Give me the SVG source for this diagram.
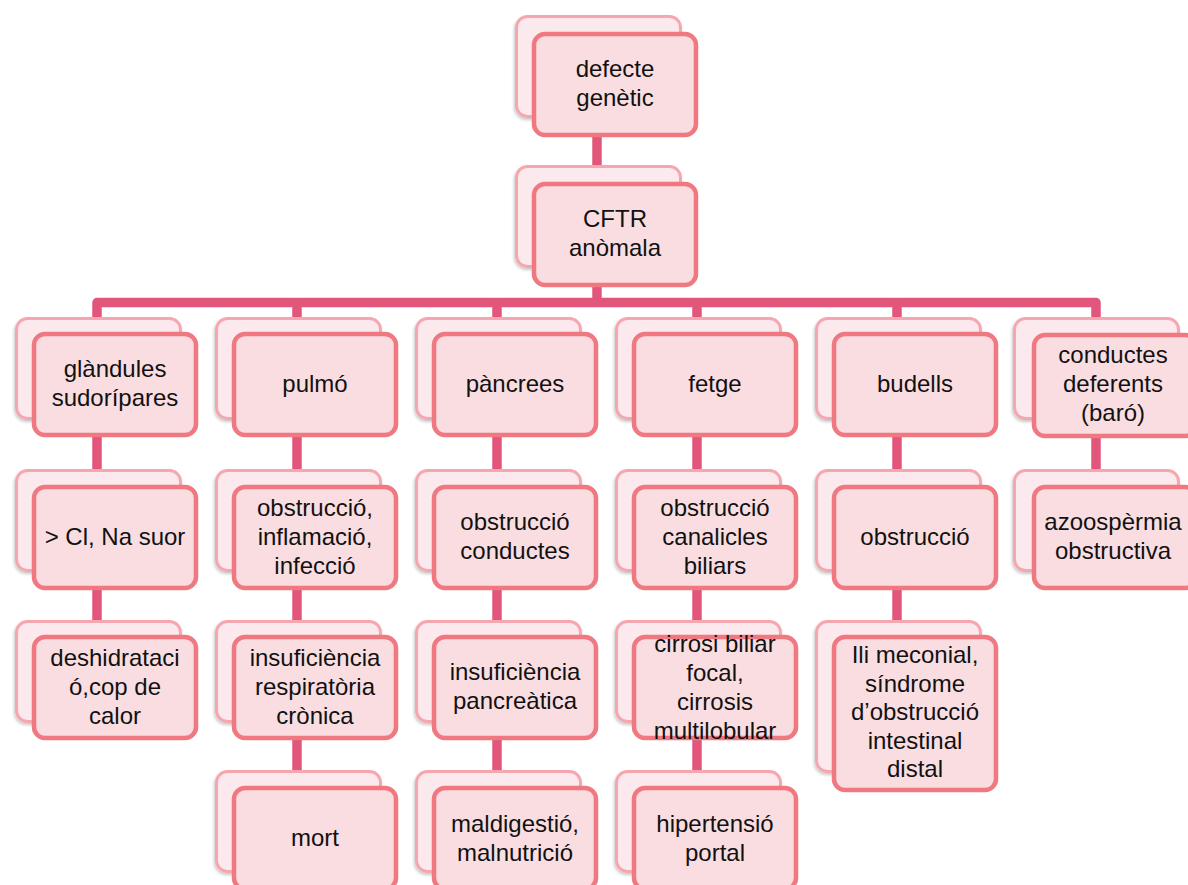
<svg xmlns="http://www.w3.org/2000/svg" width="1188" height="885" viewBox="0 0 1188 885">
<defs>
<filter id="sh" x="-10%" y="-10%" width="120%" height="125%">
<feDropShadow dx="-1" dy="2" stdDeviation="1.5" flood-color="#000" flood-opacity="0.22"/>
</filter>
<style>
.bk{fill:#FBE9ED;stroke:#F6A6AE;stroke-width:3;filter:url(#sh)}
.fr{fill:#FADDE1;stroke:#F07880;stroke-width:4.5}
.cn{fill:none;stroke:#E2567C;stroke-width:9.5;stroke-linejoin:round}
text{font-family:"Liberation Sans",Arial,sans-serif;font-size:24px;fill:#111;text-anchor:middle}
</style>
</defs>
<rect width="1188" height="885" fill="#fff"/>
<g id="connectors">
<path class="cn" d="M597,137V302.5"/>
<path class="cn" d="M97,625V302.5H1096V470"/>
<path class="cn" d="M297,302.5V775"/>
<path class="cn" d="M497,302.5V775"/>
<path class="cn" d="M697,302.5V775"/>
<path class="cn" d="M897,302.5V625"/>
</g>
<g id="n-defecte">
<rect class="bk" x="516.5" y="16.5" width="164" height="100" rx="11"/>
<rect class="fr" x="534" y="34" width="162" height="101" rx="11"/>
<text x="615"><tspan x="615" y="77">defecte</tspan><tspan x="615" y="106">genètic</tspan></text>
</g>
<g id="n-cftr">
<rect class="bk" x="516.5" y="166.5" width="164" height="100" rx="11"/>
<rect class="fr" x="534" y="184" width="162" height="101" rx="11"/>
<text><tspan x="615" y="227">CFTR</tspan><tspan x="615" y="256">anòmala</tspan></text>
</g>
<g id="n-glandules">
<rect class="bk" x="16.5" y="318.5" width="164" height="100" rx="11"/>
<rect class="fr" x="34" y="334" width="162" height="101" rx="11"/>
<text><tspan x="115" y="377">glàndules</tspan><tspan x="115" y="406">sudorípares</tspan></text>
</g>
<g id="n-clna">
<rect class="bk" x="16.5" y="470.5" width="164" height="100" rx="11"/>
<rect class="fr" x="34" y="487" width="162" height="101" rx="11"/>
<text><tspan x="115" y="545">&gt; Cl, Na suor</tspan></text>
</g>
<g id="n-deshidratacio">
<rect class="bk" x="16.5" y="621.5" width="164" height="100" rx="11"/>
<rect class="fr" x="34" y="637" width="162" height="101" rx="11"/>
<text><tspan x="115" y="666">deshidrataci</tspan><tspan x="115" y="695">ó,cop de</tspan><tspan x="115" y="724">calor</tspan></text>
</g>
<g id="n-pulmo">
<rect class="bk" x="216.5" y="318.5" width="164" height="100" rx="11"/>
<rect class="fr" x="234" y="334" width="162" height="101" rx="11"/>
<text><tspan x="315" y="392">pulmó</tspan></text>
</g>
<g id="n-obs-pulmo">
<rect class="bk" x="216.5" y="470.5" width="164" height="100" rx="11"/>
<rect class="fr" x="234" y="487" width="162" height="101" rx="11"/>
<text><tspan x="315" y="516">obstrucció,</tspan><tspan x="315" y="545">inflamació,</tspan><tspan x="315" y="574">infecció</tspan></text>
</g>
<g id="n-insuf-resp">
<rect class="bk" x="216.5" y="621.5" width="164" height="100" rx="11"/>
<rect class="fr" x="234" y="637" width="162" height="101" rx="11"/>
<text><tspan x="315" y="666">insuficiència</tspan><tspan x="315" y="695">respiratòria</tspan><tspan x="315" y="724">crònica</tspan></text>
</g>
<g id="n-mort">
<rect class="bk" x="216.5" y="771.5" width="164" height="100" rx="11"/>
<rect class="fr" x="234" y="788" width="162" height="101" rx="11"/>
<text><tspan x="315" y="846">mort</tspan></text>
</g>
<g id="n-pancrees">
<rect class="bk" x="416.5" y="318.5" width="164" height="100" rx="11"/>
<rect class="fr" x="434" y="334" width="162" height="101" rx="11"/>
<text><tspan x="515" y="392">pàncrees</tspan></text>
</g>
<g id="n-obs-conductes">
<rect class="bk" x="416.5" y="470.5" width="164" height="100" rx="11"/>
<rect class="fr" x="434" y="487" width="162" height="101" rx="11"/>
<text><tspan x="515" y="530">obstrucció</tspan><tspan x="515" y="559">conductes</tspan></text>
</g>
<g id="n-insuf-panc">
<rect class="bk" x="416.5" y="621.5" width="164" height="100" rx="11"/>
<rect class="fr" x="434" y="637" width="162" height="101" rx="11"/>
<text><tspan x="515" y="680">insuficiència</tspan><tspan x="515" y="709">pancreàtica</tspan></text>
</g>
<g id="n-maldigestio">
<rect class="bk" x="416.5" y="771.5" width="164" height="100" rx="11"/>
<rect class="fr" x="434" y="788" width="162" height="101" rx="11"/>
<text><tspan x="515" y="832">maldigestió,</tspan><tspan x="515" y="861">malnutrició</tspan></text>
</g>
<g id="n-fetge">
<rect class="bk" x="616.5" y="318.5" width="164" height="100" rx="11"/>
<rect class="fr" x="634" y="334" width="162" height="101" rx="11"/>
<text><tspan x="715" y="392">fetge</tspan></text>
</g>
<g id="n-obs-canalicles">
<rect class="bk" x="616.5" y="470.5" width="164" height="100" rx="11"/>
<rect class="fr" x="634" y="487" width="162" height="101" rx="11"/>
<text><tspan x="715" y="516">obstrucció</tspan><tspan x="715" y="545">canalicles</tspan><tspan x="715" y="574">biliars</tspan></text>
</g>
<g id="n-cirrosi">
<rect class="bk" x="616.5" y="621.5" width="164" height="100" rx="11"/>
<rect class="fr" x="634" y="637" width="162" height="101" rx="11"/>
<text><tspan x="715" y="652">cirrosi biliar</tspan><tspan x="715" y="681">focal,</tspan><tspan x="715" y="710">cirrosis</tspan><tspan x="715" y="739">multilobular</tspan></text>
</g>
<g id="n-hipertensio">
<rect class="bk" x="616.5" y="771.5" width="164" height="100" rx="11"/>
<rect class="fr" x="634" y="788" width="162" height="101" rx="11"/>
<text><tspan x="715" y="832">hipertensió</tspan><tspan x="715" y="861">portal</tspan></text>
</g>
<g id="n-budells">
<rect class="bk" x="816.5" y="318.5" width="164" height="100" rx="11"/>
<rect class="fr" x="834" y="334" width="162" height="101" rx="11"/>
<text><tspan x="915" y="392">budells</tspan></text>
</g>
<g id="n-obs-budells">
<rect class="bk" x="816.5" y="470.5" width="164" height="100" rx="11"/>
<rect class="fr" x="834" y="487" width="162" height="101" rx="11"/>
<text><tspan x="915" y="545">obstrucció</tspan></text>
</g>
<g id="n-ili">
<rect class="bk" x="816.5" y="621.5" width="164" height="150" rx="11"/>
<rect class="fr" x="834" y="637" width="162" height="153" rx="11"/>
<text><tspan x="915" y="663">Ili meconial,</tspan><tspan x="915" y="692">síndrome</tspan><tspan x="915" y="720">d’obstrucció</tspan><tspan x="915" y="749">intestinal</tspan><tspan x="915" y="777">distal</tspan></text>
</g>
<g id="n-conductes-deferents">
<rect class="bk" x="1014.5" y="318.5" width="164" height="100" rx="11"/>
<rect class="fr" x="1034" y="335" width="162" height="101" rx="11"/>
<text><tspan x="1113" y="363">conductes</tspan><tspan x="1113" y="392">deferents</tspan><tspan x="1113" y="421">(baró)</tspan></text>
</g>
<g id="n-azoospermia">
<rect class="bk" x="1014.5" y="470.5" width="164" height="100" rx="11"/>
<rect class="fr" x="1034" y="487" width="162" height="101" rx="11"/>
<text><tspan x="1113" y="530">azoospèrmia</tspan><tspan x="1113" y="559">obstructiva</tspan></text>
</g>
</svg>
